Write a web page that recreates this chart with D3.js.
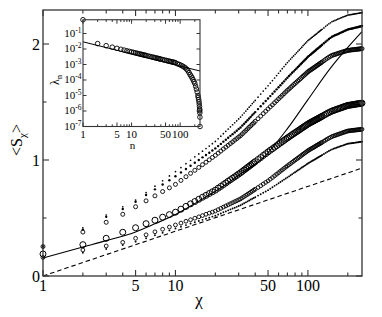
<!DOCTYPE html>
<html><head><meta charset="utf-8">
<script src="https://cdn.jsdelivr.net/npm/d3@7"></script>
<style>body{margin:0;background:#fff}svg{display:block}text{font-family:"Liberation Serif","Times New Roman","DejaVu Serif",serif}</style>
</head><body>
<svg id="c" width="382" height="317"></svg>
<script>
// ---------- data ----------
const chi = [1,2,3,4,5,6,7,8,9,10,11,12,13,14,15,16,17,18,19,20,
  21,22,23,24,25,26,27,28,29,30,31,32,33,34,35,36,37,38,39,40,
  42,44,46,48,50,52,54,56,58,60,62,64,
  66,68,70,72,74,76,78,80,82,84,86,88,90,92,94,96,98,100,102,104,106,108,110,112,114,116,118,120,122,124,126,128,
  132,136,140,144,148,152,156,160,164,168,172,176,180,184,188,192,196,200,204,208,212,216,220,224,228,232,236,240,244,248,252,256];
const seriesA = [.254,.416,.526,.597,.655,.719,.774,.821,.863,.90,
  .935,.968,.998,1.027,1.052,1.076,1.099,1.120,1.141,1.16,
  1.183,1.205,1.227,1.247,1.267,1.286,1.304,1.321,1.338,1.354,
  1.37,1.388,1.405,1.422,1.438,1.455,1.470,1.486,1.500,1.514,
  1.542,1.568,1.594,1.617,1.64,1.663,1.685,1.707,1.728,1.748,1.768,1.787,
  1.805,1.824,1.840,1.855,1.870,1.884,1.897,1.911,1.924,1.937,1.949,1.961,1.973,1.986,1.997,2.008,
  2.019,2.03,2.037,2.045,2.052,2.06,2.067,2.075,2.081,2.088,2.095,2.102,2.108,2.115,2.121,2.127,
  2.139,2.152,2.163,2.174,2.183,2.193,2.198,2.203,2.208,2.214,2.219,2.224,2.228,2.233,2.237,2.241,
  2.245,2.25,2.251,2.253,2.254,2.256,2.257,2.259,2.260,2.262,2.263,2.265,2.266,2.268,2.269,2.27];
const seriesB = [.254,.40,.51,.578,.64,.698,.747,.789,.826,.86,
  .893,.923,.951,.976,1.000,1.023,1.043,1.063,1.082,1.10,
  1.120,1.139,1.158,1.175,1.192,1.208,1.223,1.238,1.252,1.267,
  1.28,1.297,1.312,1.328,1.343,1.358,1.372,1.387,1.400,1.413,
  1.439,1.463,1.487,1.508,1.53,1.551,1.571,1.590,1.609,1.627,1.644,1.662,
  1.678,1.695,1.709,1.724,1.738,1.752,1.764,1.777,1.789,1.802,1.813,1.825,1.836,1.848,1.858,1.869,
  1.879,1.89,1.898,1.906,1.914,1.922,1.929,1.937,1.944,1.952,1.959,1.966,1.973,1.980,1.986,1.993,
  2.006,2.019,2.031,2.043,2.053,2.063,2.069,2.075,2.080,2.085,2.090,2.096,2.101,2.106,2.111,2.116,
  2.120,2.125,2.128,2.130,2.132,2.134,2.136,2.139,2.141,2.143,2.145,2.147,2.149,2.151,2.153,2.155];
const seriesC = [.254,.379,.463,.532,.597,.648,.691,.728,.760,.79,
  .824,.856,.885,.911,.936,.960,.981,1.002,1.022,1.04,
  1.059,1.077,1.095,1.111,1.127,1.142,1.156,1.171,1.184,1.198,
  1.21,1.225,1.240,1.254,1.268,1.282,1.295,1.308,1.320,1.333,
  1.356,1.378,1.400,1.420,1.44,1.459,1.476,1.494,1.510,1.527,1.542,1.557,
  1.572,1.587,1.600,1.612,1.625,1.637,1.649,1.660,1.671,1.682,1.692,1.702,1.713,1.723,1.732,1.741,
  1.751,1.76,1.767,1.774,1.780,1.786,1.793,1.799,1.805,1.811,1.817,1.823,1.829,1.834,1.840,1.845,
  1.856,1.867,1.877,1.886,1.894,1.902,1.906,1.910,1.914,1.918,1.922,1.925,1.929,1.932,1.936,1.939,
  1.942,1.945,1.946,1.947,1.949,1.950,1.951,1.952,1.953,1.954,1.955,1.956,1.957,1.958,1.959,1.96];
const seriesD = [.19,.27,.325,.377,.416,.451,.481,.507,.529,.55,
  .576,.600,.622,.642,.661,.679,.695,.711,.726,.74,
  .757,.772,.788,.802,.817,.830,.843,.855,.867,.879,
  .89,.902,.914,.925,.936,.946,.957,.967,.977,.986,
  1.004,1.021,1.039,1.054,1.07,1.084,1.097,1.110,1.123,1.135,1.147,1.158,
  1.169,1.180,1.190,1.199,1.209,1.218,1.227,1.235,1.243,1.251,1.259,1.267,1.275,1.282,1.289,1.296,
  1.303,1.31,1.316,1.321,1.326,1.331,1.336,1.341,1.346,1.350,1.355,1.359,1.364,1.368,1.373,1.377,
  1.386,1.394,1.402,1.409,1.416,1.422,1.427,1.431,1.436,1.440,1.444,1.448,1.452,1.456,1.460,1.463,
  1.467,1.47,1.472,1.473,1.475,1.476,1.478,1.479,1.481,1.482,1.484,1.485,1.486,1.487,1.489,1.49];
const seriesE = [.16,.224,.259,.29,.325,.355,.381,.403,.422,.44,
  .456,.472,.485,.498,.510,.521,.532,.542,.551,.56,
  .572,.583,.594,.604,.614,.623,.632,.641,.649,.657,
  .665,.675,.685,.695,.704,.713,.722,.731,.740,.748,
  .763,.778,.793,.807,.82,.835,.849,.864,.877,.890,.903,.915,
  .927,.939,.950,.960,.970,.980,.990,.999,1.008,1.016,1.025,1.033,1.042,1.050,1.058,1.065,
  1.073,1.08,1.086,1.092,1.098,1.103,1.108,1.113,1.119,1.124,1.129,1.134,1.139,1.143,1.148,1.153,
  1.162,1.171,1.180,1.188,1.195,1.202,1.207,1.211,1.216,1.220,1.224,1.228,1.232,1.236,1.240,1.243,
  1.247,1.25,1.251,1.252,1.254,1.255,1.256,1.257,1.258,1.259,1.260,1.261,1.262,1.263,1.264,1.265];
const seriesF = [.16,.20,.233,.267,.296,.326,.351,.373,.393,.41,
  .425,.439,.452,.463,.474,.484,.494,.503,.512,.52,
  .530,.539,.549,.557,.566,.574,.582,.589,.596,.603,
  .61,.619,.627,.635,.643,.651,.659,.666,.673,.679,
  .693,.705,.718,.729,.74,.753,.765,.777,.788,.799,.810,.821,
  .831,.841,.850,.859,.869,.878,.887,.895,.903,.911,.919,.927,.935,.942,.949,.956,
  .963,.97,.976,.982,.988,.993,.998,1.003,1.009,1.014,1.019,1.024,1.029,1.033,1.038,1.043,
  1.052,1.061,1.070,1.078,1.085,1.092,1.097,1.101,1.106,1.110,1.114,1.118,1.122,1.126,1.130,1.133,
  1.137,1.14,1.142,1.143,1.145,1.146,1.147,1.148,1.150,1.151,1.152,1.153,1.155,1.156,1.157,1.158];
const fitChi = [1,2,3,5,7,10,15,20,31,46,70,100,150,200,256];
const fitS   = [0.155,0.25,0.305,0.38,0.45,0.53,0.645,0.73,0.88,1.02,1.27,1.52,1.80,1.97,2.106];
const dashChi = [1,256];
const dashS   = [0,0.93];
const xTickLabels = [1,5,10,50,100];
const xMinorTicks = [2,3,4,6,7,8,9,20,30,40,60,70,80,90,200];
const yTickLabels = [0,1,2];
const yMinorTicks = [0.5,1.5];

// inset
const insetN = [1,2,3,4,5,6,7,8,9,10,11,12,13,14,15,16,17,18,19,20,
  22,24,26,28,30,32,34,36,38,40,
  44,48,52,56,60,64,68,72,76,80,
  88,96,104,112,120,128,136,144,152,160,
  168,176,184,192,200,208,216,224,232,
  236,240,244,247,250,252,253,254,255,256];
const insetLambda = [0.77,0.0223,0.0163,0.0131,0.0110,0.00957,0.00849,0.00767,0.00700,0.00646,
  0.00600,0.00561,0.00527,0.00498,0.00472,0.00450,0.00430,0.00411,0.00394,0.00378,
  0.00352,0.00329,0.00309,0.00292,0.00277,0.00264,0.00252,0.00241,0.00231,0.00222,
  0.00207,0.00193,0.00182,0.00171,0.00163,0.00155,0.00148,0.00141,0.00136,0.00130,
  0.00112,0.00100,8.9e-4,7.9e-4,6.9e-4,6.0e-4,5.0e-4,4.0e-4,3.0e-4,2.24e-4,
  1.78e-4,1.38e-4,1.05e-4,7.9e-5,6.0e-5,4.0e-5,2.6e-5,1.66e-5,1.0e-5,
  7.6e-6,5.6e-6,4.0e-6,2.8e-6,1.9e-6,1.3e-6,1.05e-6,7.6e-7,4.0e-7,1.0e-7];
const insetFitN = [1,256];
const insetFitL = [0.029,3.8e-4];
const insetXTickLabels = [1,5,10,50,100];
const insetXMinor = [2,3,4,6,7,8,9,20,30,40,60,70,80,90,200];
const insetYExp = [-1,-2,-3,-4,-5,-6,-7];

// ---------- drawing ----------
const svg = d3.select('#c');
const FONT = '"Liberation Serif","Times New Roman","DejaVu Serif",serif';
const L=43, R=362, T=10, B=276;
const x = d3.scaleLog().domain([1,256]).range([L,R]);
const y = d3.scaleLinear().domain([0,(B-T)/116]).range([B,T]);
const ink = '#000', frame = '#333';

svg.append('rect').attr('width',382).attr('height',317).attr('fill','#fff');

const lineGen = d3.line().x(d=>x(d[0])).y(d=>y(d[1]));
svg.append('path').datum(dashChi.map((c,i)=>[c,dashS[i]]))
  .attr('d',lineGen).attr('fill','none').attr('stroke',ink).attr('stroke-width',1.1).attr('stroke-dasharray','4.5,3');
svg.append('path').datum(fitChi.map((c,i)=>[c,fitS[i]]))
  .attr('d',d3.line().x(d=>x(d[0])).y(d=>y(d[1])).curve(d3.curveMonotoneX))
  .attr('fill','none').attr('stroke',ink).attr('stroke-width',1.1);

function pts(vals, r, filled, sw){
  svg.append('g').selectAll('circle').data(chi.map((c,i)=>[c,vals[i]])).join('circle')
    .attr('cx',d=>x(d[0])).attr('cy',d=>y(d[1])).attr('r',r)
    .attr('fill',filled?ink:'none').attr('stroke',filled?'none':ink).attr('stroke-width',sw||0.9);
}
pts(seriesF,0.95,true);
pts(seriesE,1.9,false,0.9);
pts(seriesD,3.0,false,1.0);
pts(seriesC,2.0,false,0.9);
pts(seriesB,1.2,true);
pts(seriesA,0.85,true);

svg.append('rect').attr('x',L).attr('y',T).attr('width',R-L).attr('height',B-T)
  .attr('fill','none').attr('stroke',frame).attr('stroke-width',1.3);

const tk = svg.append('g').attr('stroke',frame).attr('stroke-width',1.1);
function vt(vals,len){ vals.forEach(v=>{ const px=x(v);
  tk.append('line').attr('x1',px).attr('x2',px).attr('y1',B).attr('y2',B-len);
  tk.append('line').attr('x1',px).attr('x2',px).attr('y1',T).attr('y2',T+len);});}
vt(xTickLabels,6); vt(xMinorTicks,3.5);
function ht(vals,len){ vals.forEach(v=>{ const py=y(v);
  tk.append('line').attr('x1',L).attr('x2',L+len).attr('y1',py).attr('y2',py);
  tk.append('line').attr('x1',R).attr('x2',R-len).attr('y1',py).attr('y2',py);});}
ht(yTickLabels,6); ht(yMinorTicks,3.5);

svg.append('g').selectAll('text').data(xTickLabels).join('text')
  .attr('x',d=>x(d)).attr('y',291).attr('text-anchor','middle')
  .style('font-family',FONT).attr('font-size',16).text(d=>d);
svg.append('g').selectAll('text').data(yTickLabels).join('text')
  .attr('x',40).attr('y',d=>y(d)+5.5).attr('text-anchor','end')
  .style('font-family',FONT).attr('font-size',16).text(d=>d);

svg.append('text').attr('x',199).attr('y',305).attr('text-anchor','middle')
  .style('font-family',FONT).attr('font-size',17).text('χ');
const yl = svg.append('text').attr('transform','translate(22,140) rotate(-90)').attr('text-anchor','middle')
  .style('font-family',FONT).attr('font-size',16);
yl.append('tspan').text('<S');
yl.append('tspan').attr('font-size',11).attr('dy',4).text('χ');
yl.append('tspan').attr('dy',-4).text('>');

// ---------- inset ----------
const IL=83, IR=200, IT=19.75, IB=126.5;
const ix = d3.scaleLog().domain([1,256]).range([IL,IR]);
const iy = d3.scaleLog().domain([1e-7,0.77]).range([IB,IT]);
const ig = svg.append('g');
ig.append('rect').attr('x',IL).attr('y',IT).attr('width',IR-IL).attr('height',IB-IT)
  .attr('fill','#fff').attr('stroke','none');
ig.append('path').datum(insetFitN.map((n,i)=>[n,insetFitL[i]]))
  .attr('d',d3.line().x(d=>ix(d[0])).y(d=>iy(d[1]))).attr('fill','none').attr('stroke',ink).attr('stroke-width',1);
ig.append('g').selectAll('circle').data(insetN.map((n,i)=>[n,insetLambda[i]])).join('circle')
  .attr('cx',d=>ix(d[0])).attr('cy',d=>iy(d[1])).attr('r',2.3)
  .attr('fill','none').attr('stroke',ink).attr('stroke-width',0.9);
ig.append('rect').attr('x',IL).attr('y',IT).attr('width',IR-IL).attr('height',IB-IT)
  .attr('fill','none').attr('stroke',frame).attr('stroke-width',1.1);
const itk = ig.append('g').attr('stroke',frame).attr('stroke-width',1);
function ivt(vals,len){ vals.forEach(v=>{ const px=ix(v);
  itk.append('line').attr('x1',px).attr('x2',px).attr('y1',IB).attr('y2',IB-len);
  itk.append('line').attr('x1',px).attr('x2',px).attr('y1',IT).attr('y2',IT+len);});}
ivt(insetXTickLabels,4); ivt(insetXMinor,2.2);
insetYExp.forEach(e=>{ const py=iy(Math.pow(10,e));
  itk.append('line').attr('x1',IL).attr('x2',IL+3.5).attr('y1',py).attr('y2',py);
  itk.append('line').attr('x1',IR).attr('x2',IR-3.5).attr('y1',py).attr('y2',py);});
ig.append('g').selectAll('text').data(insetXTickLabels).join('text')
  .attr('x',d=>ix(d)).attr('y',137.5).attr('text-anchor','middle')
  .style('font-family',FONT).attr('font-size',11).text(d=>d);
const iyl = ig.append('g').selectAll('text').data(insetYExp).join('text')
  .attr('x',81.5).attr('y',d=>iy(Math.pow(10,d))+3.5).attr('text-anchor','end')
  .style('font-family',FONT).attr('font-size',11);
iyl.append('tspan').text('10');
iyl.append('tspan').attr('font-size',7.5).attr('dy',-4).text(d=>d);
ig.append('text').attr('x',132.5).attr('y',148.5).attr('text-anchor','middle')
  .style('font-family',FONT).attr('font-size',11).text('n');
const lyl = ig.append('text').attr('transform','translate(59,80) rotate(-90)').attr('text-anchor','middle')
  .style('font-family',FONT).attr('font-size',12);
lyl.append('tspan').text('λ');
lyl.append('tspan').attr('font-size',8).attr('dy',2.5).text('n');
</script>
</body></html>
